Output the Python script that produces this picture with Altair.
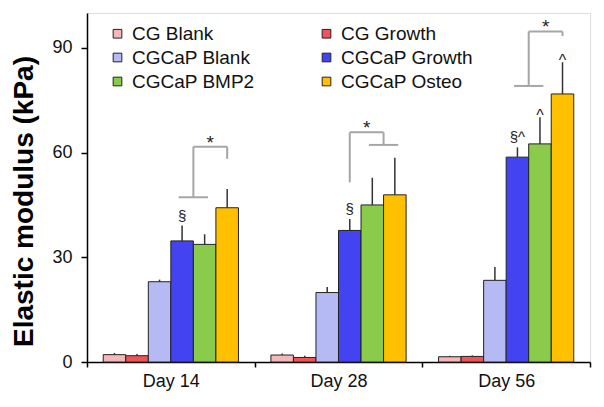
import altair as alt
import pandas as pd

days = ["Day 14", "Day 28", "Day 56"]
groups = ["CG Blank", "CG Growth", "CGCaP Blank", "CGCaP Growth", "CGCaP BMP2", "CGCaP Osteo"]
colors = ["#F5B8BA", "#F0545A", "#B6BAF4", "#4343F2", "#8BCB4C", "#FFC000"]

values_d14 = [2.1, 1.8, 23.0, 34.7, 33.7, 44.2]
values_d28 = [2.0, 1.3, 19.9, 37.7, 45.0, 47.9]
values_d56 = [1.5, 1.6, 23.4, 58.7, 62.5, 76.8]
errors_d14 = [0.5, 0.5, 0.6, 4.4, 2.9, 5.4]
errors_d28 = [0.4, 0.5, 1.6, 3.3, 7.8, 10.6]
errors_d56 = [0.3, 0.3, 3.8, 2.8, 7.6, 9.1]

# significance symbols: (day, group, text)
sect_days = ["Day 14", "Day 28", "Day 56"]
sect_groups = ["CGCaP Growth", "CGCaP Growth", "CGCaP Growth"]
sect_texts = ["§", "§", "§^"]
caret_days = ["Day 56", "Day 56"]
caret_groups = ["CGCaP BMP2", "CGCaP Osteo"]

# brackets: left side group(s), right side group(s), y levels (kPa)
br_days = ["Day 14", "Day 28", "Day 56"]
br_left = [["CGCaP Growth", "CGCaP BMP2"], ["CGCaP Growth"], ["CGCaP Growth", "CGCaP BMP2"]]
br_right = [["CGCaP Osteo"], ["CGCaP BMP2", "CGCaP Osteo"], ["CGCaP Osteo"]]
br_left_y = [47.2, 51.5, 79.1]
br_top_y = [61.7, 65.8, 94.7]
br_right_y = [58.2, 62.2, 93.4]

# layout constant: outer padding of the offset band scale (in steps)
PO = 0.72
N = len(groups)
STEP = 1.0 / (N + 2 * PO)

rows = []
for d, vals, errs in zip(days, [values_d14, values_d28, values_d56], [errors_d14, errors_d28, errors_d56]):
    for g, v, e in zip(groups, vals, errs):
        rows.append({"Day": d, "Group": g, "Value": v, "Top": v + e})
df = pd.DataFrame(rows)
lookup = df.set_index(["Day", "Group"])["Top"]

sect_df = pd.DataFrame({"Day": sect_days, "Group": sect_groups, "Text": sect_texts})
sect_df["Top"] = [lookup[(d, g)] for d, g in zip(sect_days, sect_groups)]
caret_df = pd.DataFrame({"Day": caret_days, "Group": caret_groups, "Text": ["^"] * len(caret_days)})
caret_df["Top"] = [lookup[(d, g)] for d, g in zip(caret_days, caret_groups)]


def center(day, group):
    return days.index(day) + (PO + groups.index(group) + 0.5) * STEP


segs = []
stars = []
for d, lg, rg, ly, ty, ry in zip(br_days, br_left, br_right, br_left_y, br_top_y, br_right_y):
    xs = []
    for gs, y in ((lg, ly), (rg, ry)):
        cs = [center(d, g) for g in gs]
        x = sum(cs) / len(cs)
        xs.append(x)
        if len(cs) > 1:
            segs.append({"x": min(cs) - 0.15 * STEP, "x2": max(cs) + 0.15 * STEP, "y": y, "y2": y})
        segs.append({"x": x, "x2": x, "y": y, "y2": ty})
    segs.append({"x": xs[0], "x2": xs[1], "y": ty, "y2": ty})
    stars.append({"x": (xs[0] + xs[1]) / 2, "y": ty, "Text": "*"})
seg_df = pd.DataFrame(segs)
star_df = pd.DataFrame(stars)

FONT = "Liberation Sans"

x_band = alt.X(
    "Day:N",
    sort=days,
    scale=alt.Scale(paddingInner=0, paddingOuter=0),
    axis=alt.Axis(title=None, labelAngle=0, labelFontSize=18, labelColor="#111", labelFont=FONT,
                  tickBand="extent", tickSize=5, tickWidth=1.5, tickColor="black",
                  labelPadding=5, domainColor="black", domainWidth=1.5),
)
x_off = alt.XOffset("Group:N", sort=groups, scale=alt.Scale(paddingOuter=PO, paddingInner=0))
y_enc = alt.Y(
    "Value:Q",
    scale=alt.Scale(domain=[0, 100], nice=False),
    axis=alt.Axis(values=[0, 30, 60, 90], grid=False, title="Elastic modulus (kPa)",
                  titleFontSize=28, titleFontWeight="bold", titleColor="black", titleFont=FONT,
                  titleX=-63, titleY=188, titleAngle=270, titleAlign="center", titleBaseline="middle",
                  labelFontSize=18, labelColor="#111", labelFont=FONT, labelPadding=9,
                  tickSize=6, tickWidth=1.5, tickColor="black", domainColor="black", domainWidth=1.5),
)

bars = alt.Chart(df).mark_bar(stroke="#222", strokeWidth=1).encode(
    x=x_band,
    xOffset=x_off,
    y=y_enc,
    color=alt.Color(
        "Group:N",
        sort=groups,
        scale=alt.Scale(domain=groups, range=colors),
        legend=alt.Legend(orient="none", legendX=21, legendY=11, columns=2, direction="horizontal",
                          title=None,
                          symbolType="square", symbolSize=75, symbolStrokeColor="#222",
                          symbolStrokeWidth=1, labelFontSize=19, labelFont=FONT, labelColor="#111",
                          labelOffset=5, columnPadding=62, rowPadding=4, padding=0,
                          labelLimit=300),
    ),
)

errs = alt.Chart(df).mark_rule(color="#333", strokeWidth=1.5).encode(
    x=x_band, xOffset=x_off, y="Value:Q", y2="Top:Q"
)

sect = alt.Chart(sect_df).mark_text(fontSize=15, font=FONT, color="#222", baseline="bottom", dy=-2).encode(
    x=x_band, xOffset=x_off, y="Top:Q", text="Text:N"
)
caret = alt.Chart(caret_df).mark_text(fontSize=16, font=FONT, color="#222", baseline="bottom", dy=7).encode(
    x=x_band, xOffset=x_off, y="Top:Q", text="Text:N"
)

base_layer = alt.layer(bars, errs, sect, caret)

xq = alt.X("x:Q", scale=alt.Scale(domain=[0, 3], nice=False, zero=False), axis=None)
brackets = alt.Chart(seg_df).mark_rule(color="#A6A6A6", strokeWidth=2).encode(
    x=xq, x2="x2:Q", y="y:Q", y2="y2:Q"
)
star_txt = alt.Chart(star_df).mark_text(fontSize=19, font=FONT, color="#222", dy=-4).encode(
    x=xq, y="y:Q", text="Text:N"
)
br_layer = alt.layer(brackets, star_txt)

chart = alt.layer(base_layer, br_layer).resolve_scale(x="independent").properties(
    width=503,
    height=349,
    autosize=alt.AutoSizeParams(type="none"),
    padding={"left": 79, "top": 5, "right": 6, "bottom": 30},
).configure_view(stroke="black", strokeWidth=1.5).configure(background="white")

chart.save("out.html", embed_options={"renderer": "svg", "actions": False})
